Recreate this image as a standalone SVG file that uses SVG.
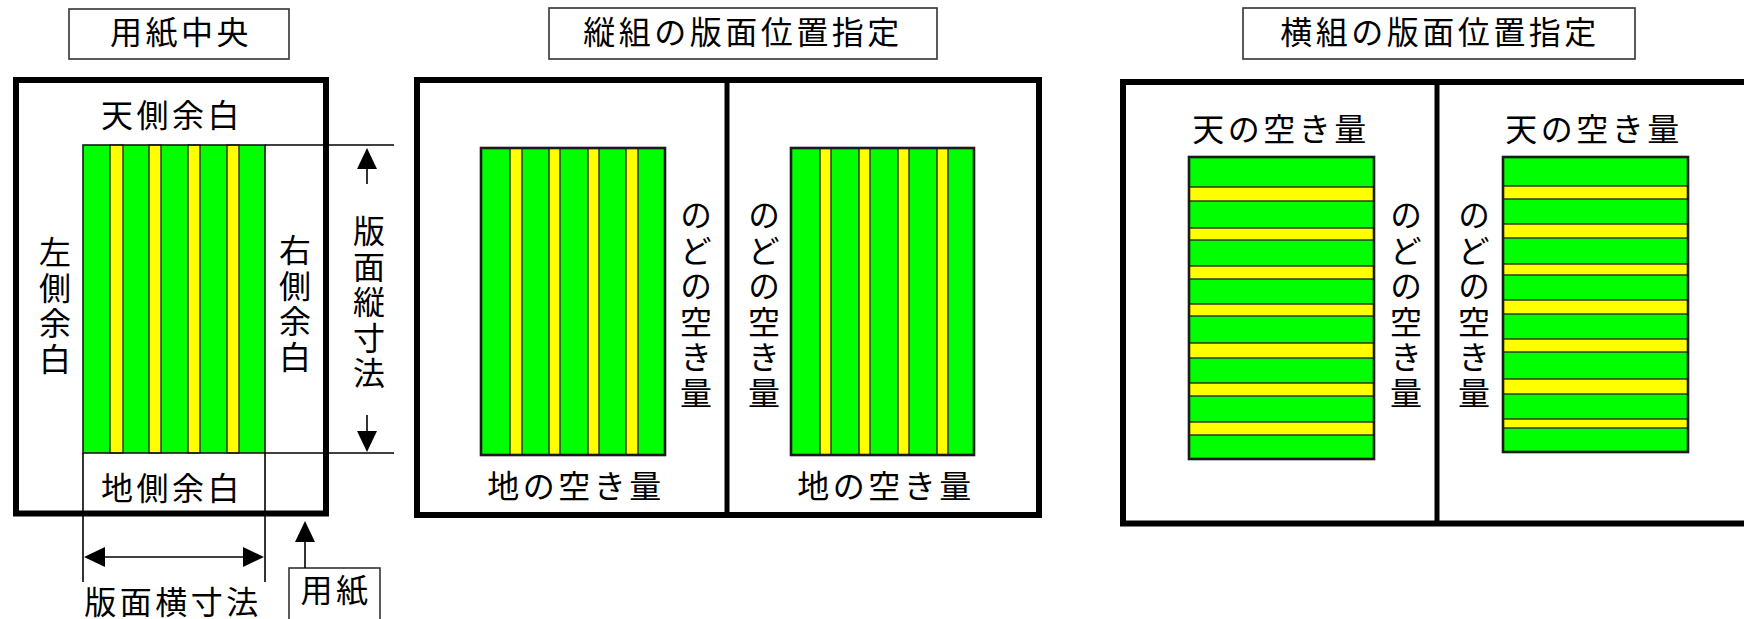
<svg xmlns="http://www.w3.org/2000/svg" xmlns:xlink="http://www.w3.org/1999/xlink" width="1744" height="619" viewBox="0 0 1744 619">
<style>
text{font-family:"Liberation Sans","Noto Sans CJK JP",sans-serif;font-size:32px;fill:#000;letter-spacing:3.5px}
.h{text-anchor:middle}
.v{writing-mode:vertical-rl;text-anchor:start}
.title{fill:#fff;stroke:#333;stroke-width:1.6}
.frame{fill:#fff;stroke:#000;stroke-width:6}
.div{stroke:#000;stroke-width:5}
.g{fill:#00ff00}
.y{fill:#ffff00;stroke:#2a2a2a;stroke-width:1.4}
.bo{fill:none;stroke:#1a1a1a;stroke-width:2.6}
.bt{fill:none;stroke:#1a1a1a;stroke-width:1.6}
.ln{stroke:#000;stroke-width:1.6;fill:none}
.ah{fill:#000}
</style>
<defs>
<path id="arrow" d="M0,0 L-21,-10 L-21,10 Z"/>
</defs>

<!-- Titles -->
<g id="title-center">
<rect class="title" x="69" y="9" width="220" height="50"/>
<text class="h" x="181" y="44">用紙中央</text>
</g>
<g id="title-vertical">
<rect class="title" x="549" y="8" width="388" height="51"/>
<text class="h" x="743" y="43.5">縦組の版面位置指定</text>
</g>
<g id="title-horizontal">
<rect class="title" x="1243" y="8" width="392" height="51"/>
<text class="h" x="1440" y="43.5">横組の版面位置指定</text>
</g>

<!-- Left panel: paper centre -->
<g id="paper-frame">
<rect class="frame" x="16" y="80" width="310" height="433.5"/>
</g>
<g id="panel-left-block">
<rect class="g" x="83" y="145" width="182" height="308"/>
<rect class="y" x="110" y="145" width="13" height="308"/>
<rect class="y" x="149" y="145" width="12" height="308"/>
<rect class="y" x="188" y="145" width="12" height="308"/>
<rect class="y" x="227" y="145" width="12" height="308"/>
<rect class="bt" x="83" y="145" width="182" height="308"/>
</g>
<g id="label-top-margin"><text class="h" x="172" y="126.5">天側余白</text></g>
<g id="label-bottom-margin"><text class="h" x="172" y="499.5">地側余白</text></g>
<g id="label-left-margin"><text class="v" x="52" y="236">左側余白</text></g>
<g id="label-right-margin"><text class="v" x="292" y="234">右側余白</text></g>
<g id="label-height"><text class="v" x="366" y="215">版面縦寸法</text></g>
<g id="label-width"><text class="h" x="173" y="613.5">版面横寸法</text></g>
<g id="label-paper">
<rect class="title" x="289" y="568" width="91" height="70"/>
<text class="h" x="336" y="601.5">用紙</text>
</g>

<!-- Middle panel: vertical setting -->
<g id="vertical-spread">
<rect class="frame" x="417" y="80" width="622" height="435"/>
<line class="div" x1="727" y1="80" x2="727" y2="515"/>
</g>
<g id="vertical-left-block">
<rect class="g" x="481" y="148" width="184" height="307"/>
<rect class="y" x="510" y="148" width="12" height="307"/>
<rect class="y" x="549" y="148" width="11" height="307"/>
<rect class="y" x="588" y="148" width="11" height="307"/>
<rect class="y" x="626" y="148" width="12" height="307"/>
<rect class="bo" x="481" y="148" width="184" height="307"/>
</g>
<g id="vertical-right-block">
<rect class="g" x="791" y="148" width="183" height="307"/>
<rect class="y" x="820" y="148" width="11" height="307"/>
<rect class="y" x="859" y="148" width="11" height="307"/>
<rect class="y" x="898" y="148" width="11" height="307"/>
<rect class="y" x="937" y="148" width="11" height="307"/>
<rect class="bo" x="791" y="148" width="183" height="307"/>
</g>
<g id="vertical-gutter-left"><text class="v" x="693" y="199">のどの空き量</text></g>
<g id="vertical-gutter-right"><text class="v" x="761" y="199">のどの空き量</text></g>
<g id="vertical-foot-left"><text class="h" x="576" y="497.5">地の空き量</text></g>
<g id="vertical-foot-right"><text class="h" x="886" y="497.5">地の空き量</text></g>

<!-- Right panel: horizontal setting -->
<g id="horizontal-spread">
<rect class="frame" x="1123" y="82" width="628" height="441.5"/>
<line class="div" x1="1437" y1="82" x2="1437" y2="523.5"/>
</g>
<g id="horizontal-left-block">
<rect class="g" x="1189" y="157" width="185" height="302"/>
<rect class="y" x="1189" y="187" width="185" height="14"/>
<rect class="y" x="1189" y="228" width="185" height="12"/>
<rect class="y" x="1189" y="266" width="185" height="13"/>
<rect class="y" x="1189" y="304" width="185" height="12"/>
<rect class="y" x="1189" y="343" width="185" height="15"/>
<rect class="y" x="1189" y="383" width="185" height="13"/>
<rect class="y" x="1189" y="422" width="185" height="13"/>
<rect class="bo" x="1189" y="157" width="185" height="302"/>
</g>
<g id="horizontal-right-block">
<rect class="g" x="1503" y="157" width="185" height="295"/>
<rect class="y" x="1503" y="186" width="185" height="13"/>
<rect class="y" x="1503" y="224" width="185" height="14"/>
<rect class="y" x="1503" y="264" width="185" height="11"/>
<rect class="y" x="1503" y="300" width="185" height="14"/>
<rect class="y" x="1503" y="339" width="185" height="13"/>
<rect class="y" x="1503" y="379" width="185" height="15"/>
<rect class="y" x="1503" y="419" width="185" height="9"/>
<rect class="bo" x="1503" y="157" width="185" height="295"/>
</g>
<g id="horizontal-head-left"><text class="h" x="1281" y="141">天の空き量</text></g>
<g id="horizontal-head-right"><text class="h" x="1594" y="141">天の空き量</text></g>
<g id="horizontal-gutter-left"><text class="v" x="1403" y="199">のどの空き量</text></g>
<g id="horizontal-gutter-right"><text class="v" x="1471" y="199">のどの空き量</text></g>

<!-- Connectors -->
<g id="connectors">
<line class="ln" x1="265" y1="145" x2="394" y2="145"/>
<line class="ln" x1="265" y1="453" x2="394" y2="453"/>
<line class="ln" x1="83" y1="453" x2="83" y2="582"/>
<line class="ln" x1="265" y1="453" x2="265" y2="582"/>
<line class="ln" x1="367" y1="184" x2="367" y2="160"/>
<use class="ah" href="#arrow" xlink:href="#arrow" transform="translate(367,148) rotate(-90)"/>
<line class="ln" x1="367" y1="415" x2="367" y2="440"/>
<use class="ah" href="#arrow" xlink:href="#arrow" transform="translate(367,452) rotate(90)"/>
<line class="ln" x1="96" y1="557" x2="252" y2="557"/>
<use class="ah" href="#arrow" xlink:href="#arrow" transform="translate(84,557) rotate(180)"/>
<use class="ah" href="#arrow" xlink:href="#arrow" transform="translate(264,557)"/>
<line class="ln" x1="305" y1="568" x2="305" y2="533"/>
<use class="ah" href="#arrow" xlink:href="#arrow" transform="translate(305,521) rotate(-90)"/>
</g>
</svg>
